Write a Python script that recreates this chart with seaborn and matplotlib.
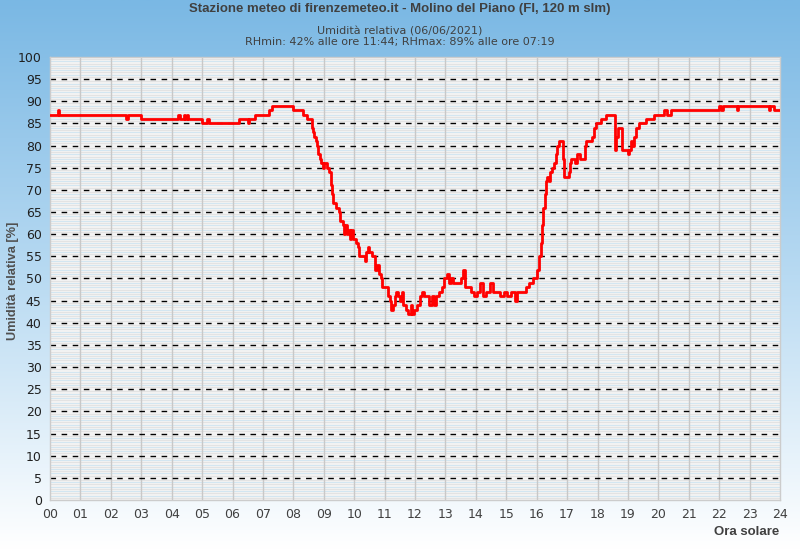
import matplotlib
matplotlib.use("Agg")
import matplotlib.pyplot as plt
import seaborn as sns
import numpy as np
import pandas as pd
from matplotlib.colors import LinearSegmentedColormap

# umidita' relativa, serie a gradini (ora solare, %)
hours = [0.0, 0.25, 0.29, 2.5, 2.57, 3.0, 4.2, 4.26, 4.4, 4.45, 4.49, 4.54,
         4.99, 5.15, 5.23, 6.23, 6.52, 6.55, 6.74, 7.21, 7.29, 8.0, 8.33, 8.44,
         8.6, 8.62, 8.66, 8.69, 8.75, 8.78, 8.8, 8.82, 8.87, 8.9, 8.97, 9.02,
         9.1, 9.17, 9.25, 9.28, 9.3, 9.4, 9.5, 9.55, 9.62, 9.65, 9.7, 9.75,
         9.8, 9.85, 9.9, 9.95, 10.05, 10.12, 10.15, 10.36, 10.4, 10.45, 10.5,
         10.6, 10.68, 10.75, 10.82, 10.88, 10.93, 11.05, 11.1, 11.18, 11.22,
         11.27, 11.33, 11.38, 11.45, 11.5, 11.56, 11.62, 11.7, 11.76, 11.86,
         11.9, 11.98, 12.08, 12.15, 12.22, 12.3, 12.47, 12.55, 12.62, 12.7,
         12.8, 12.88, 12.95, 13.05, 13.13, 13.18, 13.25, 13.5, 13.58, 13.63,
         13.83, 13.95, 14.05, 14.15, 14.22, 14.35, 14.48, 14.58, 14.8, 14.92,
         15.02, 15.15, 15.3, 15.35, 15.65, 15.75, 15.88, 16.02, 16.08, 16.13,
         16.17, 16.22, 16.26, 16.3, 16.35, 16.4, 16.45, 16.52, 16.58, 16.63,
         16.68, 16.74, 16.86, 16.9, 17.05, 17.1, 17.14, 17.27, 17.32, 17.44,
         17.58, 17.62, 17.83, 17.88, 17.95, 18.13, 18.28, 18.57, 18.59, 18.62,
         18.68, 18.8, 18.99, 19.05, 19.1, 19.15, 19.2, 19.26, 19.35, 19.6,
         19.85, 20.18, 20.28, 20.42, 21.98, 22.06, 22.12, 22.58, 22.62, 23.64,
         23.67, 23.8, 24.0]
rh = [87, 88, 87, 86, 87, 86, 87, 86, 87, 86, 87, 86,
      85, 86, 85, 86, 85, 86, 87, 88, 89, 88, 87, 86,
      85, 84, 83, 82, 81, 80, 79, 78, 77, 76, 75, 76,
      75, 74, 71, 69, 67, 66, 65, 63, 62, 60, 62, 60,
      61, 59, 61, 59, 58, 57, 55, 54, 56, 57, 56,
      55, 52, 53, 51, 50, 48, 48, 46, 45, 43,
      44, 46, 47, 46, 45, 47, 44, 43, 42, 44,
      42, 43, 44, 46, 47, 46, 44, 46, 44, 46,
      47, 48, 50, 51, 49, 50, 49, 50, 52, 48,
      47, 46, 47, 49, 46, 47, 49, 47, 46, 47,
      46, 47, 45, 47, 48, 49, 50, 52, 55, 58,
      62, 66, 69, 72, 73, 72, 74, 75, 76, 78,
      80, 81, 77, 73, 74, 76, 77, 76, 78, 77,
      80, 81, 82, 84, 85, 86, 87, 84, 79, 82,
      84, 79, 78, 79, 81, 80, 82, 84, 85, 86,
      87, 88, 87, 88, 89, 88, 89, 88, 89, 88,
      89, 88, 88]
hour_labels = ["%02d" % h for h in range(25)]

title = "Stazione meteo di firenzemeteo.it - Molino del Piano (FI, 120 m slm)"
subtitle = "Umidità relativa (06/06/2021)\nRHmin: 42% alle ore 11:44; RHmax: 89% alle ore 07:19"

sns.set_theme(style="white")
plt.rcParams['font.family'] = ['DejaVu Sans']
bold_font = ["Liberation Sans", "DejaVu Sans"]

df = pd.DataFrame({"ora": hours, "rh": rh})

fig = plt.figure(figsize=(8, 5.5), dpi=100)

# sfondo sfumato blu -> bianco
bg = fig.add_axes([0, 0, 1, 1], zorder=-10)
grad = np.linspace(0, 1, 256).reshape(-1, 1)
cmap = LinearSegmentedColormap.from_list("bg", ["#7ab8e4", "#b8daf2", "#ffffff"])
bg.imshow(grad, aspect="auto", cmap=cmap, extent=[0, 1, 0, 1], origin="upper")
bg.axis("off")

ax = fig.add_axes([0.0625, 0.0909, 0.9125, 0.8055])
ax.set_facecolor("#f3f3f3")

# griglia fine
for v in np.arange(0.5, 100, 0.5):
    if v % 5 == 0:
        continue
    col = "#d3e6f1" if v % 1 == 0 else "#e3e3e3"
    ax.axhline(v, color=col, lw=0.8, zorder=0)
for h in range(1, 24):
    ax.axvline(h, color="#c8c8c8", lw=1.0, zorder=1)
for v in range(5, 100, 5):
    ax.axhline(v, color="black", lw=1.0, ls=(0, (4, 4)), zorder=2)

sns.lineplot(data=df, x="ora", y="rh", ax=ax, color="#ff0000", lw=2.0,
             drawstyle="steps-post", estimator=None, zorder=5)

ax.set_xlim(0, 24)
ax.set_ylim(0, 100)
ax.set_xticks(range(25))
ax.set_xticklabels(hour_labels, color="#404040", fontsize=9)
ax.set_yticks(range(0, 101, 5))
ax.set_yticklabels([str(v) for v in range(0, 101, 5)], color="#202020", fontsize=9)
ax.tick_params(length=0, pad=6)
for s in ax.spines.values():
    s.set_color("#cccccc")
    s.set_linewidth(1)

ax.set_xlabel("")
ax.set_ylabel("")

fig.text(0.5, 0.994, title, ha="center", va="top", fontsize=9.5, fontweight="bold",
         color="#404040", family=bold_font)
fig.text(0.5, 0.952, subtitle, ha="center", va="top", fontsize=8, color="#404040",
         linespacing=1.1)
fig.text(0.016, 0.49, "Umidità relativa [%]", ha="center", va="center", rotation=90,
         fontsize=9.2, fontweight="bold", color="#505050", family=bold_font)
fig.text(0.974, 0.022, "Ora solare", ha="right", va="bottom", fontsize=9.5,
         fontweight="bold", color="#404040", family=bold_font)

fig.savefig("out.png", dpi=100)
